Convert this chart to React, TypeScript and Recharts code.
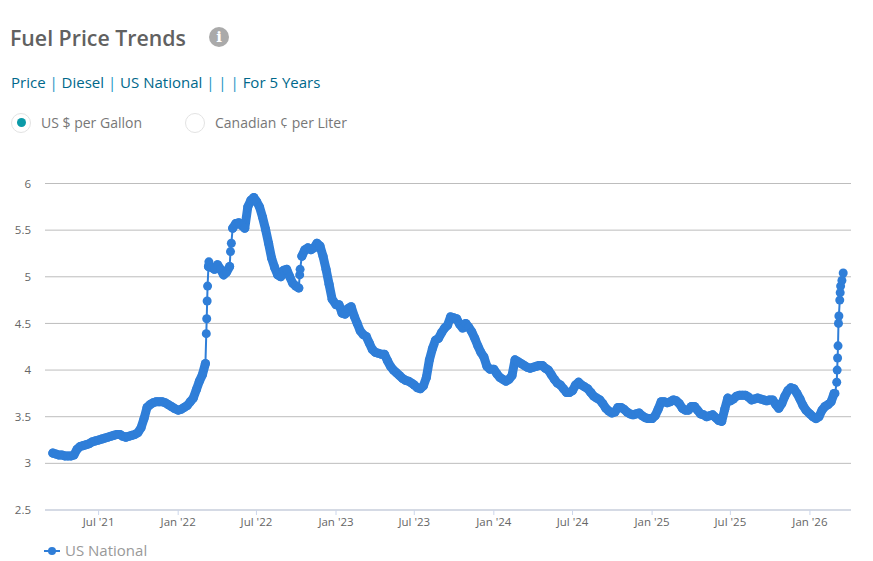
import { LineChart, Line, XAxis, YAxis, CartesianGrid, Legend } from 'recharts';

const BLUE = '#2f7ed8';
const FONT = '"Open Sans", sans-serif';
const PIPE = '#1793c4';

// weekly prices, one list per half year
const prices2021a = [3.11, 3.10, 3.09, 3.09, 3.08, 3.08, 3.08, 3.09, 3.15, 3.18, 3.19, 3.20, 3.21, 3.23, 3.24];
const prices2021b = [3.25, 3.26, 3.27, 3.28, 3.29, 3.30, 3.31, 3.31, 3.29, 3.28, 3.29, 3.30, 3.31, 3.33, 3.38, 3.48, 3.60, 3.63, 3.65, 3.66, 3.66, 3.66, 3.65, 3.63, 3.61, 3.59];
const prices2022a = [3.57, 3.58, 3.60, 3.62, 3.66, 3.70, 3.79, 3.88, 3.95, 4.07, 5.11, 5.10, 5.08, 5.13, 5.08, 5.02, 5.05, 5.11, 5.52, 5.57, 5.58, 5.55, 5.52, 5.75, 5.82, 5.85];
const prices2022b = [5.81, 5.75, 5.64, 5.51, 5.36, 5.20, 5.10, 5.02, 5.00, 5.07, 5.08, 5.00, 4.93, 4.90, 4.88, 5.22, 5.29, 5.31, 5.29, 5.31, 5.36, 5.33, 5.22, 5.08, 4.92, 4.76];
const prices2023a = [4.70, 4.70, 4.61, 4.60, 4.66, 4.68, 4.58, 4.50, 4.42, 4.38, 4.36, 4.29, 4.22, 4.19, 4.18, 4.17, 4.17, 4.10, 4.04, 4.00, 3.97, 3.94, 3.91, 3.89, 3.88, 3.86];
const prices2023b = [3.84, 3.81, 3.80, 3.83, 3.92, 4.11, 4.23, 4.32, 4.34, 4.40, 4.45, 4.48, 4.57, 4.56, 4.55, 4.49, 4.45, 4.50, 4.46, 4.41, 4.34, 4.26, 4.19, 4.14, 4.04, 4.01];
const prices2024a = [4.01, 3.96, 3.92, 3.90, 3.88, 3.90, 3.94, 4.11, 4.09, 4.07, 4.05, 4.03, 4.02, 4.03, 4.04, 4.05, 4.05, 4.02, 4.00, 3.95, 3.90, 3.86, 3.84, 3.80, 3.76, 3.76];
const prices2024b = [3.78, 3.84, 3.87, 3.84, 3.82, 3.80, 3.76, 3.72, 3.70, 3.68, 3.64, 3.59, 3.56, 3.54, 3.55, 3.60, 3.60, 3.58, 3.55, 3.53, 3.52, 3.53, 3.54, 3.51, 3.49, 3.48];
const prices2025a = [3.48, 3.51, 3.58, 3.66, 3.66, 3.65, 3.66, 3.68, 3.67, 3.64, 3.59, 3.57, 3.57, 3.61, 3.61, 3.57, 3.53, 3.52, 3.50, 3.51, 3.52, 3.49, 3.46, 3.45, 3.58, 3.70];
const prices2025b = [3.67, 3.69, 3.72, 3.73, 3.73, 3.73, 3.71, 3.68, 3.69, 3.70, 3.69, 3.68, 3.67, 3.68, 3.68, 3.63, 3.59, 3.64, 3.72, 3.78, 3.81, 3.80, 3.75, 3.69, 3.62, 3.57];
const prices2026a = [3.53, 3.50, 3.48, 3.50, 3.57, 3.61, 3.63, 3.66, 3.75];

const periodStarts = ['2021-03-17', '2021-07-01', '2022-01-01', '2022-07-01', '2023-01-01', '2023-07-01', '2024-01-01', '2024-07-01', '2025-01-01', '2025-07-01', '2026-01-01'];
const periodPrices = [prices2021a, prices2021b, prices2022a, prices2022b, prices2023a, prices2023b, prices2024a, prices2024b, prices2025a, prices2025b, prices2026a];

// daily readings where the price jumped
const jumpDates = ['2022-03-07', '2022-03-08', '2022-03-09', '2022-03-10', '2022-03-13', '2022-05-02', '2022-05-04', '2022-10-09', '2022-10-10', '2026-02-28', '2026-03-04', '2026-03-05', '2026-03-06', '2026-03-07', '2026-03-08', '2026-03-09', '2026-03-11', '2026-03-12', '2026-03-13', '2026-03-16', '2026-03-19'];
const jumpPrices = [4.39, 4.55, 4.74, 4.90, 5.16, 5.27, 5.36, 5.02, 5.08, 3.75, 3.87, 4.00, 4.13, 4.26, 4.50, 4.58, 4.75, 4.83, 4.90, 4.96, 5.04];

const tickDates = ['2021-07-01', '2022-01-01', '2022-07-01', '2023-01-01', '2023-07-01', '2024-01-01', '2024-07-01', '2025-01-01', '2025-07-01', '2026-01-01'];
const tickLabels = ["Jul '21", "Jan '22", "Jul '22", "Jan '23", "Jul '23", "Jan '24", "Jul '24", "Jan '25", "Jul '25", "Jan '26"];
const yTicks = [2.5, 3, 3.5, 4, 4.5, 5, 5.5, 6];

const DAY = 86400000;
const toTime = (d: string) => Date.parse(d + 'T00:00:00Z');

// `solid` is the same price, left empty on jump days so the thick band breaks there
const data: { t: number; price: number; solid: number | null }[] = [];
periodPrices.forEach((list, p) => {
  list.forEach((price, i) => data.push({ t: toTime(periodStarts[p]) + i * 7 * DAY, price, solid: price }));
});
jumpDates.forEach((d, i) => data.push({ t: toTime(d), price: jumpPrices[i], solid: null }));
data.sort((a, b) => a.t - b.t);

const xTicks = tickDates.map(toTime);
const formatX = (v: number) => tickLabels[xTicks.indexOf(v)] ?? '';

const Radio = ({ left, label, on }: { left: number; label: string; on?: boolean }) => (
  <div style={{ position: 'absolute', left, top: 111.5, height: 22, display: 'flex', alignItems: 'center' }}>
    <div style={{ width: 18, height: 18, border: '1.5px solid #e3e3e3', borderRadius: '50%', display: 'flex', alignItems: 'center', justifyContent: 'center', background: '#fff' }}>
      {on && <div style={{ width: 9, height: 9, borderRadius: '50%', background: '#0b9aa8' }} />}
    </div>
    <span style={{ marginLeft: 10, fontSize: 14, color: '#777' }}>{label}</span>
  </div>
);

const LegendContent = () => (
  <div style={{ display: 'flex', alignItems: 'center', height: 21, paddingLeft: 44, fontFamily: FONT }}>
    <svg width={17} height={10}>
      <line x1={0} y1={5} x2={16} y2={5} stroke={BLUE} strokeWidth={2} />
      <circle cx={8} cy={5} r={4} fill={BLUE} />
    </svg>
    <span style={{ marginLeft: 4, fontSize: 15, color: '#999', position: 'relative', top: -1 }}>US National</span>
  </div>
);

export default function App() {
  return (
    <div style={{ position: 'absolute', left: 0, top: 0, width: 873, height: 561, overflow: 'hidden', background: '#fff', fontFamily: FONT }}>
      <div style={{ position: 'absolute', left: 10, top: 23, fontSize: 21.3, fontWeight: 600, color: '#616161', lineHeight: '30px' }}>Fuel Price Trends</div>
      <div style={{ position: 'absolute', left: 209, top: 27, width: 20, height: 20, borderRadius: '50%', background: '#aaa', color: '#fff', fontSize: 15, fontWeight: 800, fontFamily: '"DejaVu Serif", serif', textAlign: 'center', lineHeight: '20px' }}>i</div>
      <div style={{ position: 'absolute', left: 11, top: 71, fontSize: 15, color: '#00688b', lineHeight: '22px', whiteSpace: 'pre' }}>
        Price <span style={{ color: PIPE }}>|</span> Diesel <span style={{ color: PIPE }}>|</span> US National <span style={{ color: PIPE }}>|</span> <span style={{ color: PIPE }}>|</span> <span style={{ color: PIPE }}>|</span> For 5 Years
      </div>
      <Radio left={11} label="US $ per Gallon" on />
      <Radio left={185} label="Canadian ¢ per Liter" />
      <div style={{ position: 'absolute', left: 0, top: 0 }}>
        <LineChart width={873} height={561} data={data} margin={{ top: 183.5, right: 22, bottom: 0, left: 0 }}>
          <CartesianGrid horizontal vertical={false} stroke="#bdbdbd" />
          <XAxis
            dataKey="t"
            type="number"
            scale="time"
            domain={[toTime('2021-02-27'), toTime('2026-04-06')]}
            ticks={xTicks}
            tickFormatter={formatX}
            interval={0}
            height={30}
            stroke="#ccd6eb"
            tickSize={5}
            tickMargin={3}
            tick={{ fontSize: 11.5, fill: '#666', fontFamily: FONT }}
          />
          <YAxis
            domain={[2.5, 6]}
            ticks={yTicks}
            width={45}
            axisLine={false}
            tickLine={false}
            tickMargin={8}
            interval={0}
            tick={{ fontSize: 11.5, fill: '#666', fontFamily: FONT }}
          />
          <Legend verticalAlign="bottom" align="left" height={21} content={<LegendContent />} />
          <Line
            type="linear"
            dataKey="solid"
            stroke={BLUE}
            strokeWidth={9}
            strokeLinecap="round"
            strokeLinejoin="round"
            dot={false}
            legendType="none"
            isAnimationActive={false}
          />
          <Line
            type="linear"
            dataKey="price"
            name="US National"
            stroke={BLUE}
            strokeWidth={2}
            dot={{ r: 4.5, fill: BLUE, stroke: BLUE, strokeWidth: 0 }}
            isAnimationActive={false}
          />
        </LineChart>
      </div>
    </div>
  );
}
